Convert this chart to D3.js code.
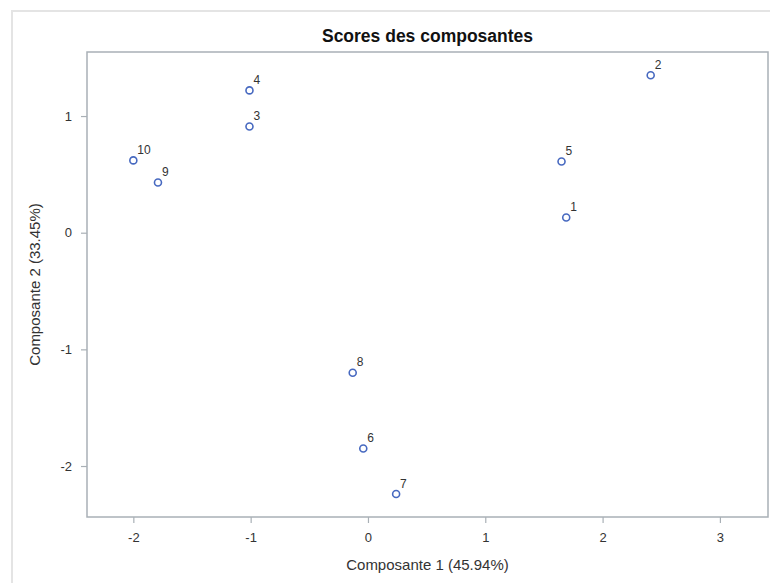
<!DOCTYPE html>
<html>
<head>
<meta charset="utf-8">
<script src="https://cdn.jsdelivr.net/npm/d3@7"></script>
<style>
  html, body { margin: 0; padding: 0; background: #fff; }
  svg { display: block; font-family: "Liberation Sans", Arial, sans-serif; }
</style>
</head>
<body>
<svg id="chart" width="770" height="583"></svg>
<script>
// Observation labels and their component scores
const ids   = ["1", "2", "3", "4", "5", "6", "7", "8", "9", "10"];
const comp1 = [1.69, 2.41, -1.01, -1.01, 1.65, -0.04, 0.24, -0.13, -1.79, -2.0];
const comp2 = [0.13, 1.35, 0.91, 1.22, 0.61, -1.85, -2.24, -1.2, 0.43, 0.62];

const xTicks = [-2, -1, 0, 1, 2, 3];
const yTicks = [-2, -1, 0, 1];

const titleText = "Scores des composantes";
const xLabel = "Composante 1 (45.94%)";
const yLabel = "Composante 2 (33.45%)";

const svg = d3.select("#chart");
const W = 770, H = 583;
const plot = { left: 87, top: 52, right: 768, bottom: 517 };

const axisColor = "#a9b0b6";
const textColor = "#333";
const markerColor = "#4769c0";

// outer frame
svg.append("rect")
  .attr("x", 12).attr("y", 11)
  .attr("width", W + 10).attr("height", H + 10)
  .attr("fill", "none")
  .attr("stroke", "#e4e4e4")
  .attr("stroke-width", 2);

const x = d3.scaleLinear().domain([-2.395, 3.41]).range([plot.left, plot.right]);
const y = d3.scaleLinear().domain([-2.437, 1.549]).range([plot.bottom, plot.top]);

// plot frame
svg.append("rect")
  .attr("x", plot.left).attr("y", plot.top)
  .attr("width", plot.right - plot.left).attr("height", plot.bottom - plot.top)
  .attr("fill", "none")
  .attr("stroke", axisColor)
  .attr("stroke-width", 1.5);

const fmt = d => d < 0 ? "-" + Math.abs(d) : String(d);

// x axis
const gx = svg.append("g")
  .attr("transform", `translate(0,${plot.bottom})`)
  .call(d3.axisBottom(x).tickValues(xTicks).tickSize(6).tickPadding(10).tickFormat(fmt));
gx.select(".domain").remove();
gx.selectAll(".tick line").attr("stroke", axisColor).attr("stroke-width", 1.2);
gx.selectAll(".tick text")
  .attr("fill", textColor)
  .style("font-size", "13px")
  .style("font-family", "Liberation Sans, Arial, sans-serif");

// y axis
const gy = svg.append("g")
  .attr("transform", `translate(${plot.left},0)`)
  .call(d3.axisLeft(y).tickValues(yTicks).tickSize(6).tickPadding(9).tickFormat(fmt));
gy.select(".domain").remove();
gy.selectAll(".tick line").attr("stroke", axisColor).attr("stroke-width", 1.2);
gy.selectAll(".tick text")
  .attr("fill", textColor)
  .style("font-size", "13px")
  .style("font-family", "Liberation Sans, Arial, sans-serif");

// title
svg.append("text")
  .attr("x", (plot.left + plot.right) / 2)
  .attr("y", 42)
  .attr("text-anchor", "middle")
  .attr("fill", "#111")
  .style("font-size", "17.5px")
  .style("font-weight", "bold")
  .text(titleText);

// axis titles
svg.append("text")
  .attr("x", (plot.left + plot.right) / 2)
  .attr("y", 570)
  .attr("text-anchor", "middle")
  .attr("fill", textColor)
  .style("font-size", "15px")
  .text(xLabel);

svg.append("text")
  .attr("transform", `translate(40,${(plot.top + plot.bottom) / 2}) rotate(-90)`)
  .attr("text-anchor", "middle")
  .attr("fill", textColor)
  .style("font-size", "15px")
  .text(yLabel);

// points
const pts = ids.map((id, i) => ({ id, c1: comp1[i], c2: comp2[i] }));

svg.append("g").selectAll("circle")
  .data(pts).join("circle")
  .attr("cx", d => x(d.c1))
  .attr("cy", d => y(d.c2))
  .attr("r", 3.5)
  .attr("fill", "none")
  .attr("stroke", markerColor)
  .attr("stroke-width", 1.6);

svg.append("g").selectAll("text")
  .data(pts).join("text")
  .attr("x", d => x(d.c1) + 4)
  .attr("y", d => y(d.c2) - 6.5)
  .attr("fill", textColor)
  .style("font-size", "12px")
  .text(d => d.id);
</script>
</body>
</html>
